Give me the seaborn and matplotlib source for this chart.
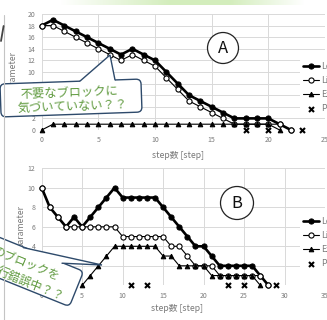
import numpy as np
import seaborn as sns
import matplotlib.pyplot as plt
from matplotlib import patches, transforms

# ---- chart A data ----
steps_lo_a = list(range(0, 23))
lo_a = [18, 19, 18, 17, 16, 15, 14, 13, 14, 13, 12, 10, 8, 6, 5, 4, 3, 2, 2, 2, 2, 1, 0]
steps_li_a = list(range(0, 23))
li_a = [18, 18, 17, 16, 15, 14, 13, 12, 13, 12, 11, 9, 7, 5, 4, 3, 2, 1, 1, 1, 1, 1, 0]
steps_ex_a = list(range(0, 22))
ex_a = [0, 1, 1, 1, 1, 1, 1, 1, 1, 1, 1, 1, 1, 1, 1, 1, 1, 1, 1, 1, 1, 0]
pi_a_x = [18, 20, 23]
pi_a_y = [0, 0, 0]

# ---- chart B data ----
steps_lo_b = list(range(0, 29))
lo_b = [10, 8, 7, 6, 7, 6, 7, 8, 9, 10, 9, 9, 9, 9, 9, 8, 7, 6, 5, 4, 4, 3, 2, 2, 2, 2, 2, 1, 0]
steps_li_b = list(range(0, 29))
li_b = [10, 8, 7, 6, 6, 6, 6, 6, 6, 6, 5, 5, 5, 5, 5, 5, 4, 4, 3, 2, 2, 2, 1, 1, 1, 1, 1, 1, 0]
steps_ex_b = list(range(5, 28))
ex_b = [0, 1, 2, 3, 4, 4, 4, 4, 4, 4, 3, 3, 2, 2, 2, 2, 1, 1, 1, 1, 1, 1, 0]
pi_b_x = [11, 13, 23, 25, 29]
pi_b_y = [0, 0, 0, 0, 0]

series_names = ["Lowest", "Likely", "Expected", "Pieces"]
x_label = "step数 [step]"
y_label = "parameter"
note_a = ["不要なブロックに", "気づいていない？？"]
note_b = ["のブロックを", "行錯誤中？？"]

sns.set_style("white")
plt.rcParams['font.family'] = ['Noto Sans CJK JP', 'DejaVu Sans']

W, H = 327, 320
fig = plt.figure(figsize=(W / 100, H / 100), dpi=100)
fig.patch.set_facecolor("white")


def px_axes(x0, y0, x1, y1):
    return fig.add_axes([x0 / W, 1 - y1 / H, (x1 - x0) / W, (y1 - y0) / H])


STYLES = {
    "Lowest": dict(marker="o", markersize=3.7, markerfacecolor="black",
                   markeredgecolor="black", linewidth=1.9),
    "Likely": dict(marker="o", markersize=3.7, markerfacecolor="white",
                   markeredgecolor="black", markeredgewidth=0.8, linewidth=0.8),
    "Expected": dict(marker="^", markersize=3.3, markerfacecolor="black",
                     markeredgecolor="black", linewidth=0.8),
}


def draw_panel(ax, lines, pi_x, pi_y, xmax, ymax, ystep, legend_top,
               ylab_x, xlab_pos):
    for name, xs, ys in lines:
        sns.lineplot(x=xs, y=ys, ax=ax, color="black", label=name,
                     clip_on=False, zorder=3, **STYLES[name])
    sns.scatterplot(x=pi_x, y=pi_y, ax=ax, marker="x", color="black",
                    s=13, linewidth=1.5, label=series_names[3],
                    clip_on=False, zorder=4)
    ax.set_xlim(0, xmax)
    ax.set_ylim(0, ymax)
    ax.set_xticks(range(0, xmax + 1, 5))
    ax.set_yticks(range(0, ymax + 1, ystep))
    ax.grid(True, color="#d9d9d9", linewidth=0.7)
    ax.set_axisbelow(True)
    for sp in ax.spines.values():
        sp.set_visible(False)
    ax.tick_params(length=0, labelsize=5, labelcolor="#7a7a7a", pad=4.5)
    ax.set_xlabel(x_label, fontsize=6.3, color="#7a7a7a")
    ax.set_ylabel(y_label, fontsize=6.3, color="#7a7a7a")
    ax.xaxis.set_label_coords(*xlab_pos)
    ax.xaxis.label.set_va("center")
    ax.yaxis.set_label_coords(ylab_x, 0.5)
    ax.yaxis.label.set_va("center")
    leg = ax.legend(loc="upper left",
                    bbox_to_anchor=(300 / W, 1 - legend_top / H),
                    bbox_transform=fig.transFigure, frameon=True,
                    facecolor="white", edgecolor="none", framealpha=1,
                    fontsize=6.3, handlelength=1.9, handletextpad=0.25,
                    borderpad=0.3, labelspacing=0.6, borderaxespad=0)
    for t in leg.get_texts():
        t.set_color("#7a7a7a")


ax_a = px_axes(41.7, 14, 325, 130)
draw_panel(ax_a,
           [("Lowest", steps_lo_a, lo_a), ("Likely", steps_li_a, li_a),
            ("Expected", steps_ex_a, ex_a)],
           pi_a_x, pi_a_y, 25, 20, 2, 59,
           (13 - 41.7) / 283.3, ((178 - 41.7) / 283.3, (130 - 155) / 116))

ax_b = px_axes(41.7, 168.3, 325, 285.3)
draw_panel(ax_b,
           [("Lowest", steps_lo_b, lo_b), ("Likely", steps_li_b, li_b),
            ("Expected", steps_ex_b, ex_b)],
           pi_b_x, pi_b_y, 35, 12, 2, 214,
           (21 - 41.7) / 283.3, ((177 - 41.7) / 283.3, (285.3 - 308) / 117))

# ---- overlay in pixel coordinates (y down) ----
ov = fig.add_axes([0, 0, 1, 1], zorder=10)
ov.patch.set_alpha(0)

# green band at top
xs = np.linspace(40, 327, 300)
alpha = np.clip(np.minimum((xs - 60) / 110, (305 - xs) / 75), 0, 1)
band = np.zeros((1, len(xs), 4))
band[..., 0], band[..., 1], band[..., 2] = 0.83, 0.93, 0.74
band[..., 3] = alpha
ov.imshow(band, extent=(40, 327, 5, 0), aspect="auto")

ov.plot([4, 4], [15, 320], color="#c4c4c4", lw=0.8)
ov.plot([1, 3.6], [41, 26], color="#444444", lw=1.3, solid_capstyle="round")

# circled panel marks
for (cx, cy, r, letter) in [(223, 48, 15.5, "A"), (237, 203, 16.5, "B")]:
    ov.add_patch(patches.Circle((cx, cy), r, fc="white", ec="#222222", lw=0.9))
    ov.text(cx, cy + 0.5, letter, ha="center", va="center", fontsize=12,
            color="#111111")

EDGE = "#2e4a6b"
GREEN = "#5f9a3e"


def callout(cx, cy, w, h, ang, tip, b1, b2):
    tr = transforms.Affine2D().rotate_deg_around(cx, cy, -ang) + ov.transData
    ov.add_patch(patches.FancyBboxPatch(
        (cx - w / 2, cy - h / 2), w, h,
        boxstyle="round,pad=0,rounding_size=5", fc="white", ec=EDGE, lw=1.0,
        transform=tr))
    ov.add_patch(patches.Polygon(
        [(b1[0], b1[1] + 1.6), b1, tip, b2, (b2[0], b2[1] + 1.6)],
        closed=True, fc="white", ec="none"))
    ov.plot([b1[0], tip[0], b2[0]], [b1[1], tip[1], b2[1]], color=EDGE,
            lw=1.0, solid_joinstyle="miter")


callout(71, 98, 141, 33, 2, (110, 55), (80, 81.1), (115, 79.9))
ov.text(69, 93, note_a[0], ha="center", va="center", rotation=2,
        fontsize=8.8, color=GREEN)
ov.text(72.5, 106, note_a[1], ha="center", va="center", rotation=2,
        fontsize=8.8, color=GREEN)

callout(16.2, 264.6, 130, 38, -22, (102, 265), (23.3, 247.6), (62, 263.2))
ov.text(26.5, 263.6, note_b[0], ha="center", va="center", rotation=-22,
        rotation_mode="anchor", fontsize=8.6, color=GREEN)
ov.text(30.5, 284, note_b[1], ha="center", va="center", rotation=-22,
        rotation_mode="anchor", fontsize=8.6, color=GREEN)

ov.set_xlim(0, W)
ov.set_ylim(H, 0)
ov.axis("off")

fig.savefig("out.png", dpi=100)
